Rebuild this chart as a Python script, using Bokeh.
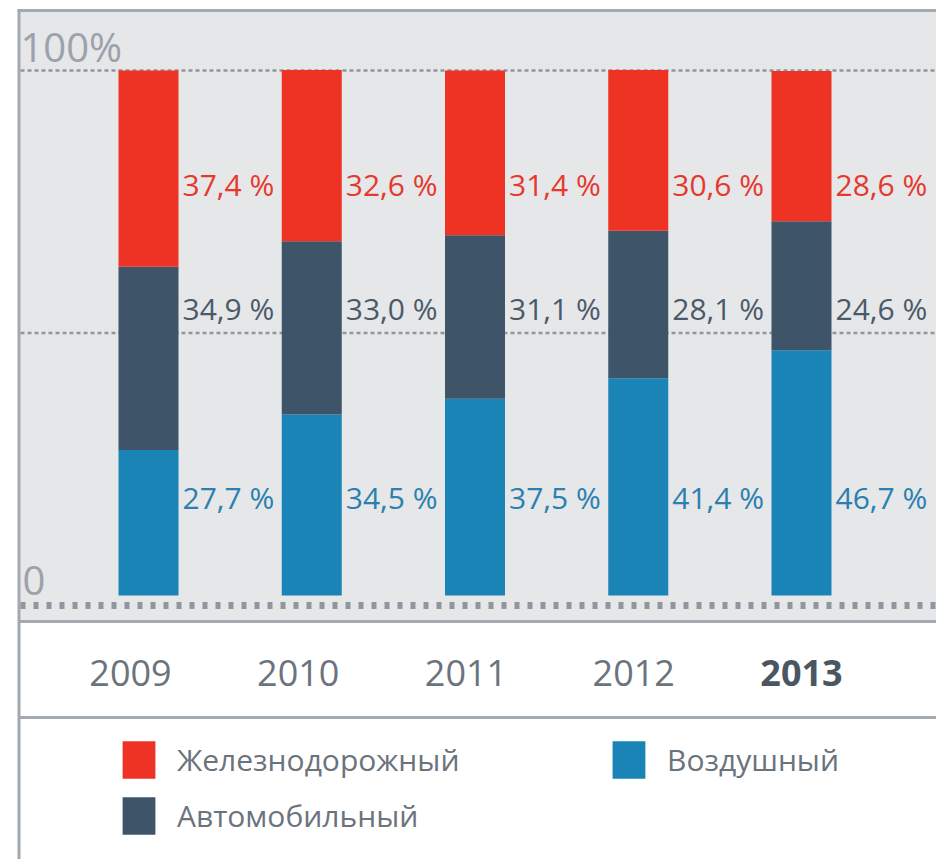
from bokeh.plotting import figure
from bokeh.models import Range1d, ColumnDataSource, Legend, LegendItem
from bokeh.core.properties import value
from bokeh.embed import file_html
from bokeh.resources import INLINE

# ---- data ----
years = [2009, 2010, 2011, 2012, 2013]
year_labels = ["2009", "2010", "2011", "2012", "2013"]
rail = [37.4, 32.6, 31.4, 30.6, 28.6]   # Железнодорожный
road = [34.9, 33.0, 31.1, 28.1, 24.6]   # Автомобильный
air = [27.7, 34.5, 37.5, 41.4, 46.7]    # Воздушный
series_names = ["Железнодорожный", "Автомобильный", "Воздушный"]
y_tick_labels = ["0", "100%"]

# ---- styling ----
RED, DARK, BLUE = "#ee3224", "#3e5469", "#1a84b6"
RED_T, DARK_T, BLUE_T = "#e5392e", "#4b5a69", "#2b80b0"
BG = "#e6e7e9"
BORDER = "#a3a9b0"
GRID = "#8f969e"
TXT = "#6b737d"
FONT = "Open Sans"

W, H = 936, 859
X0_PX, STEP_PX = 148.0, 163.25
Y0_PX, PX_PER_PCT = 595.0, 5.25


def dx(px):
    return years[0] + (px - X0_PX) / STEP_PX


def dy(py):
    return (Y0_PX - py) / PX_PER_PCT


def fmt(v):
    return f"{v:.1f} %".replace(".", ",")


# year labels sit on a slightly wider pitch than the bars
yr_offsets = [-18 + 4.5 * i for i in range(len(years))]

src = ColumnDataSource(dict(
    year=years, year_label=year_labels,
    rail=rail, road=road, air=air,
    rail_lbl=[fmt(v) for v in rail],
    road_lbl=[fmt(v) for v in road],
    air_lbl=[fmt(v) for v in air],
    yr_off=yr_offsets,
    yr_style=["bold" if y == years[-1] else "normal" for y in years],
    yr_color=["#4b5663" if y == years[-1] else TXT for y in years],
))

p = figure(width=W, height=H, x_range=Range1d(dx(0), dx(W)),
           y_range=Range1d(dy(H), dy(0)), output_backend="svg",
           toolbar_location=None, min_border=0,
           x_axis_location=None, y_axis_location=None)
p.grid.visible = False
p.outline_line_color = None
p.background_fill_color = "white"
p.border_fill_color = "white"

# panels
p.quad(left=dx(18), right=dx(W), top=dy(11), bottom=dy(621),
       fill_color=BG, line_color=None)
p.segment(x0=[dx(17), dx(18), dx(18)], x1=[dx(W)] * 3,
          y0=[dy(10), dy(621), dy(717)], y1=[dy(10), dy(621), dy(717)],
          line_color=BORDER, line_width=3)
p.segment(x0=[dx(18.5)], x1=[dx(18.5)], y0=[dy(9)], y1=[dy(H)],
          line_color=BORDER, line_width=3)

# grid lines
p.segment(x0=[dx(20)] * 2, x1=[dx(W)] * 2, y0=[100, 50], y1=[100, 50],
          line_color=GRID, line_width=2.5, line_dash="4 3")
p.segment(x0=[dx(20)], x1=[dx(W)], y0=[dy(605)], y1=[dy(605)],
          line_color=GRID, line_width=7, line_dash="5 8")

# bars
rs = p.vbar_stack(["air", "road", "rail"], x="year", width=60 / STEP_PX,
                  color=[BLUE, DARK, RED], source=src, line_color=None)
r_air, r_road, r_rail = rs

# value labels
for col, ypx, c in [("rail_lbl", 184, RED_T), ("road_lbl", 308, DARK_T),
                    ("air_lbl", 497, BLUE_T)]:
    p.text(x="year", y=dy(ypx), text=col, source=src, x_offset=34,
           text_align="left", text_baseline="middle",
           text_font=value(FONT), text_font_size="30px", text_color=c)

# y tick labels
p.text(x=[dx(22), dx(20)], y=[dy(580), dy(46)], text=y_tick_labels,
       text_align="left", text_baseline="middle",
       text_font=value(FONT), text_font_size="40px", text_color="#9ba2ab")

# year labels
p.text(x="year", y=dy(672), text="year_label", source=src,
       x_offset="yr_off",
       text_align="center", text_baseline="middle",
       text_font=value(FONT), text_font_size="36px",
       text_font_style="yr_style", text_color="yr_color")

legend = Legend(items=[
    LegendItem(label=series_names[0], renderers=[r_rail]),
    LegendItem(label=series_names[2], renderers=[r_air]),
    LegendItem(label=series_names[1], renderers=[r_road]),
], orientation="horizontal", ncols=2, location=(118, 20),
    glyph_width=41, glyph_height=47, label_standoff=18, label_width=422,
    spacing=9, padding=0, margin=0, border_line_color=None,
    background_fill_alpha=0, label_text_font=FONT,
    label_text_font_size="30px", label_text_color=TXT)
p.add_layout(legend)

open("out.html", "w").write(file_html(p, INLINE))
